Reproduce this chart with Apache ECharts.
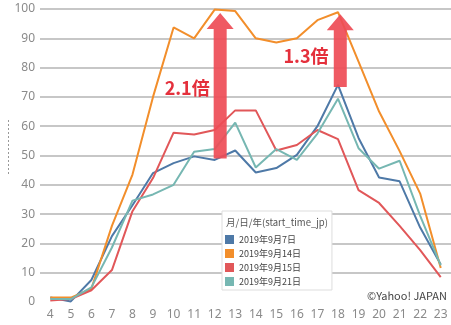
<!DOCTYPE html>
<html><head><meta charset="utf-8">
<script src="https://cdn.jsdelivr.net/npm/echarts@6/dist/echarts.min.js"></script>
<style>html,body{margin:0;padding:0;background:#fff}#c{width:451px;height:325px}</style>
</head><body><div id="c"></div>
<script>
// ---- data ----
const hours = ['4','5','6','7','8','9','10','11','12','13','14','15','16','17','18','19','20','21','22','23'];
const seriesNames = ['2019年9月7日','2019年9月14日','2019年9月15日','2019年9月21日'];
const sep7  = [1.5, 0.2, 7.5, 22.5, 33, 44, 47.4, 49.7, 48.5, 51.7, 44.2, 45.7, 50.2, 60, 74.1, 56, 42.5, 41.2, 25.4, 12.8];
const sep14 = [1.5, 1.5, 4.5, 26, 43.5, 70, 93.7, 90, 99.8, 99.3, 90, 88.6, 90, 96.2, 98.9, 82, 65, 51.5, 37, 11.6];
const sep15 = [0.5, 1, 4, 10.9, 31, 42.3, 57.8, 57.2, 58.7, 65.4, 65.4, 51.7, 53.6, 58.7, 55.6, 38.2, 33.8, 26, 17.7, 8.5];
const sep21 = [1, 1, 5, 18.6, 34.6, 36.7, 40, 51.3, 52.2, 61.2, 45.9, 52.2, 48.5, 57.5, 69.4, 52.5, 45.5, 48.2, 29.4, 12.5];
const yMin = 0, yMax = 100, yStep = 10;
const legendTitle = '月/日/年(start_time_jp)';
const credit = '©Yahoo! JAPAN';
// annotations: arrow from value to value at an hour, with its label
const arrowHours = ['12', '18'];
const arrowFrom = [49, 73.4];
const arrowTo = [98.6, 98.2];
const arrowLabels = ['2.1倍', '1.3倍'];
const arrowLabelValues = [73.1, 83.8];

// ---- styles ----
const colors = ['#4e79a7', '#f28e2b', '#e15759', '#76b7b2'];
const arrowDx = [5.5, 2.3];
const labelDx = [-27.5, -32];
const jp = '"Noto Sans CJK JP", "Noto Sans", sans-serif';

const chart = echarts.init(document.getElementById('c'), null, {renderer: 'canvas'});
const values = [sep7, sep14, sep15, sep21];
chart.setOption({
  animation: false,
  color: colors,
  grid: {left: 40, right: 0, top: 9, bottom: 23},
  xAxis: {
    type: 'category', data: hours, boundaryGap: true,
    axisLine: {show: false}, axisTick: {show: false}, splitLine: {show: false},
    axisLabel: {color: '#8a8a8a', fontSize: 12, margin: 7, fontFamily: '"Noto Sans", sans-serif'}
  },
  yAxis: {
    type: 'value', min: yMin, max: yMax, interval: yStep,
    axisLine: {show: false}, axisTick: {show: false},
    axisLabel: {color: '#8a8a8a', fontSize: 12, margin: 5, fontFamily: '"Noto Sans", sans-serif'},
    splitLine: {show: true, showMinLine: false, lineStyle: {color: '#b4b4b4', width: 1.5}}
  },
  legend: {
    orient: 'vertical', left: 222, top: 211,
    padding: [23, 31, 3, 3],
    itemWidth: 9, itemHeight: 9, itemGap: 3, icon: 'rect',
    backgroundColor: '#fff', borderColor: '#dddddd', borderWidth: 1,
    textStyle: {fontSize: 9, color: '#444', fontFamily: jp, lineHeight: 11},
    data: seriesNames
  },
  series: values.map((v, i) => ({
    name: seriesNames[i], type: 'line', data: v,
    showSymbol: false, symbol: 'none',
    lineStyle: {width: 2, color: colors[i]},
    itemStyle: {color: colors[i]}
  }))
});

const g = [];
arrowHours.forEach((h, i) => {
  const pb = chart.convertToPixel({gridIndex: 0}, [h, arrowFrom[i]]);
  const pt = chart.convertToPixel({gridIndex: 0}, [h, arrowTo[i]]);
  const cx = pb[0] + arrowDx[i], yb = pb[1], yt = pt[1], yh = yt + 16;
  const sw = 6.5;
  g.push({
    type: 'polygon', z: 50,
    shape: {points: [[cx - sw, yb], [cx - sw, yh], [cx - 13.5, yh], [cx, yt], [cx + 13.5, yh], [cx + sw, yh], [cx + sw, yb]]},
    style: {fill: 'rgba(238,76,86,0.92)'}
  });
  const pl = chart.convertToPixel({gridIndex: 0}, [h, arrowLabelValues[i]]);
  g.push({
    type: 'text', z: 51, x: pl[0] + labelDx[i], y: pl[1],
    style: {text: arrowLabels[i], fill: '#e4303c', font: 'bold 18px ' + jp, textAlign: 'center', textVerticalAlign: 'middle'}
  });
});
g.push({type: 'text', z: 60, x: 226, y: 222, style: {text: legendTitle, fill: '#555', font: '9.5px ' + jp, textVerticalAlign: 'middle'}});
g.push({type: 'text', z: 60, x: 447, y: 296, style: {text: credit, fill: '#444', font: '11px ' + jp, textAlign: 'right', textVerticalAlign: 'middle'}});
g.push({type: 'line', z: 10, shape: {x1: 8.5, y1: 120, x2: 8.5, y2: 175}, style: {stroke: '#999', lineWidth: 1, lineDash: [2, 2]}});
chart.setOption({graphic: g});
</script></body></html>
